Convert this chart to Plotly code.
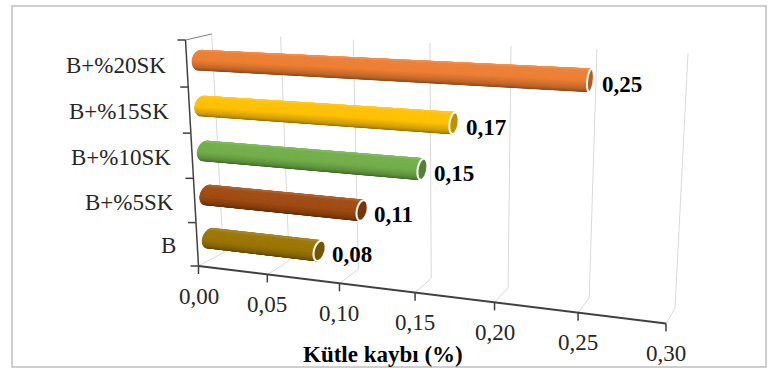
import numpy as np
import plotly.graph_objects as go

# ---- data ----
categories = ["B", "B+%5SK", "B+%10SK", "B+%15SK", "B+%20SK"]
mass_loss = [0.08, 0.11, 0.15, 0.17, 0.25]
bar_colors = ["#997300", "#9E480E", "#70AD47", "#FFC000", "#ED7D31"]
value_ticks = [0.00, 0.05, 0.10, 0.15, 0.20, 0.25, 0.30]
tick_labels = ["0,00", "0,05", "0,10", "0,15", "0,20", "0,25", "0,30"]
axis_title = "Kütle kaybı (%)"

V_MAX = value_ticks[-1]
N_CAT = len(categories)
W, H = 770, 371
FONT = "Liberation Serif, Times New Roman, serif"
FS = 23

# ---- 3D box projection (front plane d=0, back wall d=1) in screen pixels ----
FRONT = {"bl": (198.5, 266.0), "br": (666.0, 323.5), "tr": (679.0, 63.0), "tl": (185.5, 40.0)}
BACK = {"bl": (223.3, 252.7), "br": (675.0, 308.3), "tr": (688.0, 53.0), "tl": (211.7, 34.0)}


def homography(corners):
    src = [(0, 0), (1, 0), (1, 1), (0, 1)]
    dst = [corners["bl"], corners["br"], corners["tr"], corners["tl"]]
    A, b = [], []
    for (u, v), (x, y) in zip(src, dst):
        A.append([u, v, 1, 0, 0, 0, -u * x, -v * x]); b.append(x)
        A.append([0, 0, 0, u, v, 1, -u * y, -v * y]); b.append(y)
    h = np.linalg.solve(np.array(A, float), np.array(b, float))
    return np.append(h, 1.0).reshape(3, 3)


HF, HB = homography(FRONT), homography(BACK)


def project(v, c, d):
    u = np.asarray(v, float) / V_MAX
    w = np.asarray(c, float) / N_CAT
    d = np.asarray(d, float)

    def ap(M):
        z = M[2, 0] * u + M[2, 1] * w + M[2, 2]
        return (M[0, 0] * u + M[0, 1] * w + M[0, 2]) / z, (M[1, 0] * u + M[1, 1] * w + M[1, 2]) / z

    xf, yf = ap(HF)
    xb, yb = ap(HB)
    return (1 - d) * xf + d * xb, (1 - d) * yf + d * yb


def hex_rgb(h):
    h = h.lstrip("#")
    return np.array([int(h[i:i + 2], 16) for i in (0, 2, 4)], float)


def shade(hexc, f):
    rgb = hex_rgb(hexc)
    if f <= 1:
        rgb = rgb * f
    else:
        rgb = rgb + (255 - rgb) * min(f - 1, 1)
    r, g, b = np.clip(rgb, 0, 255).astype(int)
    return f"rgb({r},{g},{b})"


def path_of(xs, ys, close=True):
    p = "M " + " L ".join(f"{x:.2f},{y:.2f}" for x, y in zip(xs, ys))
    return p + (" Z" if close else "")


shapes = []
annotations = []


def seg(p0, p1, color, width):
    shapes.append(dict(type="line", xref="x", yref="y", x0=float(p0[0]), y0=float(p0[1]),
                       x1=float(p1[0]), y1=float(p1[1]), line=dict(color=color, width=width),
                       layer="above"))


# outer chart border
shapes.append(dict(type="rect", xref="x", yref="y", x0=12, y0=6, x1=766, y1=367,
                   line=dict(color="#BFBFBF", width=1.5), fillcolor="rgba(0,0,0,0)", layer="below"))

# ---- floor and back-wall gridlines ----
GRID = "#D9D9D9"
for t in value_ticks:
    seg(project(t, 0, 0), project(t, 0, 1), GRID, 1)
    seg(project(t, 0, 1), project(t, N_CAT, 1), GRID, 1)

# ---- cylinders ----
ELEV = np.deg2rad(25)      # viewing elevation
RC, RD = 0.21, 0.30        # cross-section radii (category units, depth units)
N_STRIP = 40
# brightness from the lower silhouette (0) to the upper silhouette (1)
SHADE_S = [0.0, 0.2, 0.45, 0.8, 0.95, 1.0]
SHADE_F = [0.55, 0.8, 1.0, 1.05, 1.2, 1.1]

for i, (val, col) in enumerate(zip(mass_loss, bar_colors)):
    c0, d0 = i + 0.5, 0.5
    phis = np.linspace(ELEV - np.pi, ELEV, N_STRIP + 1)
    cs = c0 + RC * np.cos(phis)
    ds = d0 + RD * np.sin(phis)
    x0s, y0s = project(0.0, cs, ds)
    x1s, y1s = project(val, cs, ds)
    for k in range(N_STRIP):
        s = (k + 0.5) / N_STRIP
        fill = shade(col, float(np.interp(s, SHADE_S, SHADE_F)))
        xs = [x0s[k], x1s[k], x1s[k + 1], x0s[k + 1]]
        ys = [y0s[k], y1s[k], y1s[k + 1], y0s[k + 1]]
        shapes.append(dict(type="path", xref="x", yref="y", path=path_of(xs, ys),
                           fillcolor=fill, line=dict(color=fill, width=0.7), layer="above"))
    # end cap
    ph = np.linspace(0, 2 * np.pi, 61)
    ex, ey = project(val, c0 + RC * np.cos(ph), d0 + RD * np.sin(ph))
    shapes.append(dict(type="path", xref="x", yref="y", path=path_of(ex, ey),
                       fillcolor=shade(col, 0.75), line=dict(color="white", width=2), layer="above"))
    # value label
    lx, ly = project(val, c0, d0)
    annotations.append(dict(x=float(lx), y=float(ly), xref="x", yref="y", xanchor="left", yanchor="middle",
                            xshift=10, yshift=-4, showarrow=False,
                            text=f"<b>{val:.2f}</b>".replace(".", ","),
                            font=dict(family=FONT, size=FS, color="#000000")))

# ---- axes ----
AX = "#404040"
seg(project(0, 0, 0), project(0, N_CAT, 0), AX, 1.5)
seg(project(0, N_CAT, 0), project(0, N_CAT, 1), "#7F7F7F", 1)
seg(project(0, 0, 0), project(V_MAX, 0, 0), AX, 2)
for c in range(N_CAT + 1):
    x, y = project(0, c, 0)
    seg((x - 8, y), (x, y), AX, 1.5)
for t, lab in zip(value_ticks, tick_labels):
    x, y = project(t, 0, 0)
    seg((x, y), (x, y + 8), AX, 1.5)
    annotations.append(dict(x=float(x), y=float(y), xref="x", yref="y", xanchor="center", yanchor="middle",
                            yshift=-30, showarrow=False, text=lab,
                            font=dict(family=FONT, size=FS, color="#262626")))
for i, lab in enumerate(categories):
    x, y = project(0, i + 0.5, 0)
    annotations.append(dict(x=float(x), y=float(y), xref="x", yref="y", xanchor="right", yanchor="middle",
                            xshift=-19, yshift=-1.5, showarrow=False, text=lab,
                            font=dict(family=FONT, size=FS, color="#262626")))

annotations.append(dict(x=383, y=354.5, xref="x", yref="y", xanchor="center", yanchor="middle",
                        showarrow=False, text=f"<b>{axis_title}</b>",
                        font=dict(family=FONT, size=FS, color="#000000")))

fig = go.Figure()
fig.update_layout(
    width=W, height=H, margin=dict(l=0, r=0, t=0, b=0),
    paper_bgcolor="white", plot_bgcolor="white", showlegend=False,
    xaxis=dict(range=[0, W], visible=False, fixedrange=True),
    yaxis=dict(range=[H, 0], visible=False, fixedrange=True),
    shapes=shapes, annotations=annotations,
)
fig.write_html("out.html")
